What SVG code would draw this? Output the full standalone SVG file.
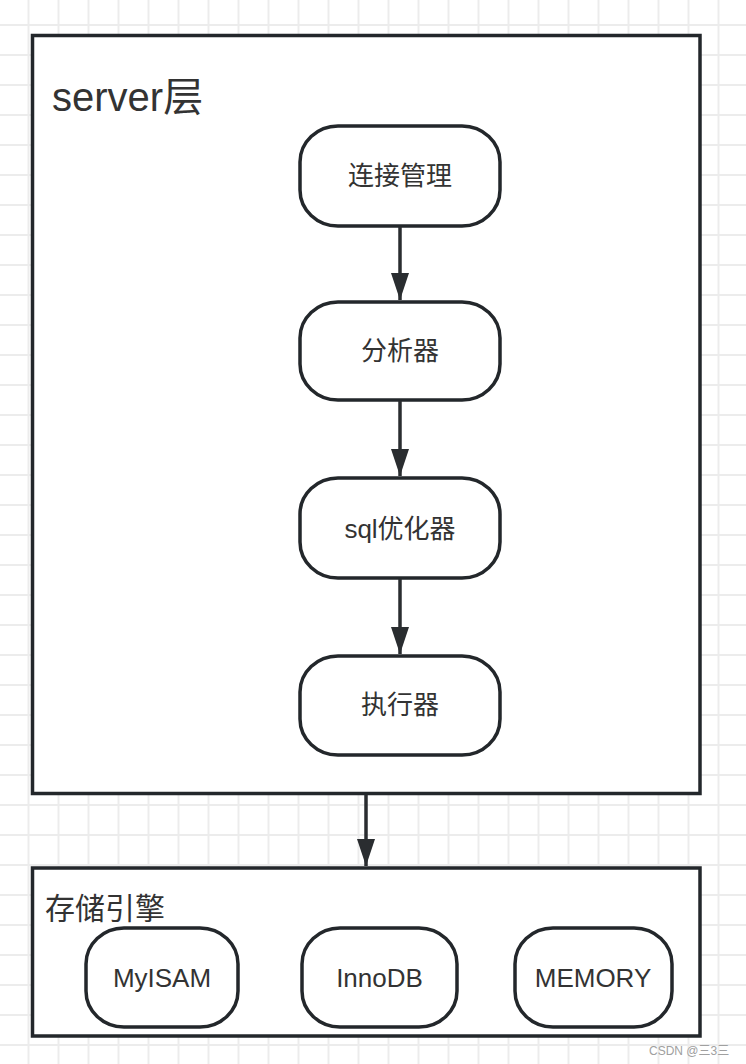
<svg xmlns="http://www.w3.org/2000/svg" width="746" height="1064" viewBox="0 0 746 1064">
  <defs>
    <pattern id="grid" x="13.5" y="10" width="30" height="30" patternUnits="userSpaceOnUse">
      <path d="M15 0 V30 M0 15 H30" stroke="#ececec" stroke-width="2" fill="none"/>
    </pattern>
    <marker id="arrow" viewBox="0 0 27 18" refX="27" refY="9" markerWidth="27" markerHeight="18" markerUnits="userSpaceOnUse" orient="auto">
      <path d="M0 0 L27 9 L0 18 Z" fill="#2a2d30"/>
    </marker>
    <style>
      .box { fill: #ffffff; stroke: #23272b; stroke-width: 3.5; }
      .node { fill: #ffffff; stroke: #23272b; stroke-width: 3.5; }
      .lbl { font-family: "Liberation Sans", "Noto Sans CJK SC", sans-serif; fill: #333333; text-anchor: middle; font-size: 26px; }
      .title { font-family: "Liberation Sans", "Noto Sans CJK SC", sans-serif; fill: #333333; }
      .edge { stroke: #2a2d30; stroke-width: 3.5; fill: none; }
      .wm { font-family: "Liberation Sans", "Noto Sans CJK SC", sans-serif; fill: #a0a0a0; font-size: 12px; }
    </style>
  </defs>

  <rect x="0" y="0" width="746" height="1064" fill="#ffffff"/>
  <rect x="0" y="0" width="746" height="1064" fill="url(#grid)"/>

  <g id="server">
    <rect class="box" x="32.5" y="35.5" width="667.5" height="758"/>
    <text class="title" x="52" y="111" font-size="40">server层</text>
  </g>

  <g id="storage">
    <rect class="box" x="32.5" y="868" width="667.5" height="168"/>
    <text class="title" x="45" y="918.5" font-size="30">存储引擎</text>
  </g>

  <g id="n-conn">
    <rect class="node" x="300" y="126" width="200" height="100" rx="38" ry="36"/>
    <text class="lbl" x="400" y="185">连接管理</text>
  </g>
  <g id="n-parser">
    <rect class="node" x="300" y="302" width="200" height="98" rx="38" ry="36"/>
    <text class="lbl" x="400" y="360">分析器</text>
  </g>
  <g id="n-opt">
    <rect class="node" x="300" y="478" width="200" height="100" rx="38" ry="36"/>
    <text class="lbl" x="400" y="538">sql优化器</text>
  </g>
  <g id="n-exec">
    <rect class="node" x="300" y="656" width="200" height="99" rx="38" ry="36"/>
    <text class="lbl" x="400" y="714">执行器</text>
  </g>

  <g id="n-myisam">
    <rect class="node" x="86" y="928" width="152" height="99" rx="38" ry="36"/>
    <text class="lbl" x="162" y="987">MyISAM</text>
  </g>
  <g id="n-innodb">
    <rect class="node" x="302" y="928" width="155" height="99" rx="38" ry="36"/>
    <text class="lbl" x="379.5" y="987">InnoDB</text>
  </g>
  <g id="n-memory">
    <rect class="node" x="515" y="928" width="157" height="99" rx="38" ry="36"/>
    <text class="lbl" x="593" y="987">MEMORY</text>
  </g>

  <g id="connectors">
    <line class="edge" x1="400" y1="227" x2="400" y2="300" marker-end="url(#arrow)"/>
    <line class="edge" x1="400" y1="401" x2="400" y2="476" marker-end="url(#arrow)"/>
    <line class="edge" x1="400" y1="579" x2="400" y2="654" marker-end="url(#arrow)"/>
    <line class="edge" x1="366" y1="795" x2="366" y2="866" marker-end="url(#arrow)"/>
  </g>

  <text class="wm" x="649" y="1055">CSDN @三3三</text>
</svg>
